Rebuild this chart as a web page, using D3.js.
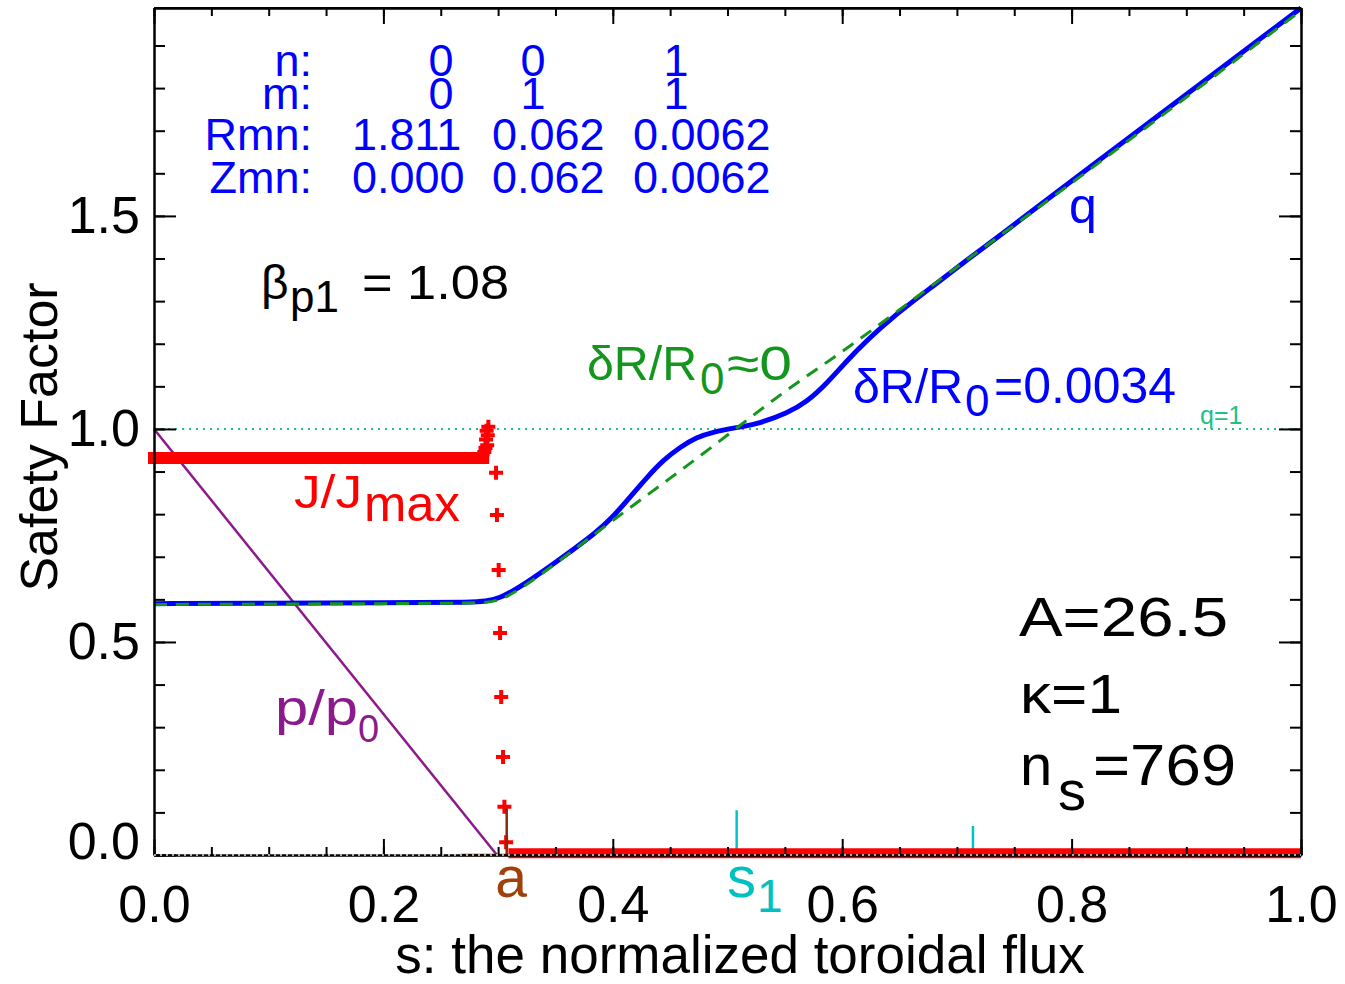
<!DOCTYPE html>
<html>
<head>
<meta charset="utf-8">
<script src="https://cdn.jsdelivr.net/npm/d3@7"></script>
<style>
body { margin: 0; background: #fff; }
svg { display: block; font-family: "Liberation Sans", Arial, Helvetica, sans-serif; }
</style>
</head>
<body>
<svg id="chart" width="1345" height="984"></svg>
<script>
// safety factor with the island (blue) and without it (green)
var qS    = [0, 0.1, 0.2, 0.28, 0.30, 0.33, 0.357, 0.386, 0.40, 0.415, 0.43, 0.444, 0.459, 0.473, 0.487, 0.51, 0.528, 0.552, 0.569, 0.587, 0.604, 0.622, 0.644, 0.679, 0.709, 0.738, 0.80, 0.90, 1.0];
var qBlue = [0.590, 0.591, 0.592, 0.593, 0.597, 0.648, 0.700, 0.758, 0.793, 0.840, 0.887, 0.927, 0.958, 0.980, 0.993, 1.004, 1.013, 1.037, 1.063, 1.108, 1.160, 1.209, 1.263, 1.335, 1.397, 1.455, 1.582, 1.785, 1.988];
var gS     = [0, 0.1, 0.2, 0.28, 0.30, 0.32, 0.35, 0.40, 0.45, 0.50, 0.55, 0.60, 0.65, 0.70, 0.75, 0.80, 0.90, 1.0];
var qGreen = [0.588, 0.589, 0.590, 0.591, 0.594, 0.625, 0.683, 0.786, 0.884, 0.985, 1.090, 1.180, 1.280, 1.380, 1.478, 1.577, 1.778, 1.982];

// J/Jmax : dense flat parts + the sparse points at the edge
var jCoreS = [0, 0.287];
var jCoreV = [0.932, 0.932];
var jOutS  = [0.309, 1.0];
var jOutV  = [0.004, 0.004];
var jPlusS = [0.2865, 0.2880, 0.2890, 0.2905, 0.2895, 0.2910, 0.2900, 0.2915, 0.2982, 0.2990, 0.3005, 0.3017, 0.3027, 0.3043, 0.3055, 0.3070];
var jPlusV = [0.940, 0.946, 0.955, 0.962, 0.975, 0.985, 0.996, 1.005, 0.897, 0.798, 0.669, 0.521, 0.371, 0.230, 0.113, 0.030];

// pressure p/p0
var pS = [0, 0.299];
var pV = [1.0, 0.0];

// boundary 'a' and rational surfaces
var aPos = 0.3075, aHeight = 0.11, aHalf = 0.04;
var surfS = [0.508, 0.714];
var surfH = [0.105, 0.068];
var surfHalf = [0.043, 0.03];

// axis ticks
var xTicks = [0, 0.2, 0.4, 0.6, 0.8, 1.0];
var xTickLabels = ["0.0", "0.2", "0.4", "0.6", "0.8", "1.0"];
var yTicks = [0, 0.5, 1.0, 1.5];
var yTickLabels = ["0.0", "0.5", "1.0", "1.5"];
var yMax = 1.988;

// boundary table
var tabRows = ["n:", "m:", "Rmn:", "Zmn:"];
var tabN = ["0", "0", "1"];
var tabM = ["0", "1", "1"];
var tabR = ["1.811", "0.062", "0.0062"];
var tabZ = ["0.000", "0.062", "0.0062"];

var svg = d3.select("#chart");
var x = d3.scaleLinear().domain([0, 1]).range([154, 1301]);
var y = d3.scaleLinear().domain([0, yMax]).range([855, 8]);

function zip(a, b) { return a.map(function(d, i) { return [d, b[i]]; }); }
var line = d3.line().x(function(d) { return x(d[0]); }).y(function(d) { return y(d[1]); });
var smooth = d3.line().x(function(d) { return x(d[0]); }).y(function(d) { return y(d[1]); }).curve(d3.curveBasis);

// q = 1 dotted line
svg.append("path").attr("d", line([[0, 1], [1, 1]]))
    .attr("stroke", "#1fc08a").attr("stroke-width", 2).attr("stroke-dasharray", "2,5").attr("fill", "none");

// pressure
svg.append("path").attr("d", line(zip(pS, pV)))
    .attr("stroke", "#8c1a8c").attr("stroke-width", 2.5).attr("fill", "none");

// q curves
svg.append("path").attr("d", smooth(zip(qS, qBlue)))
    .attr("stroke", "#0000ff").attr("stroke-width", 5).attr("fill", "none").attr("stroke-linejoin", "round");
svg.append("path").attr("d", smooth(zip(gS, qGreen)))
    .attr("stroke", "#14961e").attr("stroke-width", 3).attr("stroke-dasharray", "13,9").attr("fill", "none");

// rational surfaces (cyan)
surfS.forEach(function(s, i) {
    svg.append("path").attr("d", line([[s, 0], [s, surfH[i]]]))
        .attr("stroke", "#00c4c4").attr("stroke-width", 2.5);
    svg.append("path").attr("d", line([[s - surfHalf[i], 0], [s + surfHalf[i], 0]]))
        .attr("stroke", "#00c4c4").attr("stroke-width", 2.5);
});

// J/Jmax
svg.append("path").attr("d", line(zip(jCoreS, jCoreV)))
    .attr("stroke", "#ff0000").attr("stroke-width", 12).attr("stroke-linecap", "square").attr("fill", "none");
svg.append("path").attr("d", line(zip(jOutS, jOutV)))
    .attr("stroke", "#ff0000").attr("stroke-width", 10).attr("fill", "none");
svg.selectAll(".jp").data(zip(jPlusS, jPlusV)).enter().append("path")
    .attr("class", "jp")
    .attr("transform", function(d) { return "translate(" + x(d[0]) + "," + y(d[1]) + ")"; })
    .attr("d", "M-7,0H7M0,-7V7")
    .attr("stroke", "#ff0000").attr("stroke-width", 4);

// boundary (brown)
svg.append("path").attr("d", line([[aPos, 0], [aPos, aHeight]]))
    .attr("stroke", "#8a2a0a").attr("stroke-width", 2.5);
svg.append("path").attr("d", line([[aPos - aHalf, 0], [aPos + aHalf, 0]]))
    .attr("stroke", "#8a2a0a").attr("stroke-width", 2.5);

// axes
function styleAxis(g) {
    g.selectAll(".domain").attr("stroke", "#000").attr("stroke-width", 2);
    g.selectAll(".tick line").attr("stroke", "#000").attr("stroke-width", 2);
    g.selectAll("text").attr("font-size", 52).attr("fill", "#000").attr("font-family", null);
}
var gx = svg.append("g").attr("transform", "translate(0,855)")
    .call(d3.axisBottom(x).tickValues(xTicks).tickFormat(function(d, i) { return xTickLabels[i]; })
        .tickSize(-16).tickSizeOuter(0).tickPadding(30));
styleAxis(gx);
svg.append("g").attr("transform", "translate(0,855)")
    .call(d3.axisBottom(x).ticks(20).tickFormat("").tickSize(-8).tickSizeOuter(0)).call(styleAxis);
svg.append("g").attr("transform", "translate(0,8)")
    .call(d3.axisTop(x).tickValues(xTicks).tickFormat("").tickSize(-16).tickSizeOuter(0)).call(styleAxis);
svg.append("g").attr("transform", "translate(0,8)")
    .call(d3.axisTop(x).ticks(20).tickFormat("").tickSize(-8).tickSizeOuter(0)).call(styleAxis);
var gy = svg.append("g").attr("transform", "translate(154,0)")
    .call(d3.axisLeft(y).tickValues(yTicks).tickFormat(function(d, i) { return yTickLabels[i]; })
        .tickSize(-22).tickSizeOuter(0).tickPadding(14));
styleAxis(gy);
// lowest label sits a bit above the corner, as in the original
gy.selectAll(".tick text").filter(function(d) { return d === 0; }).attr("y", -13);
svg.append("g").attr("transform", "translate(154,0)")
    .call(d3.axisLeft(y).ticks(19).tickFormat("").tickSize(-11).tickSizeOuter(0)).call(styleAxis);
svg.append("g").attr("transform", "translate(1301,0)")
    .call(d3.axisRight(y).tickValues(yTicks).tickFormat("").tickSize(-22).tickSizeOuter(0)).call(styleAxis);
svg.append("g").attr("transform", "translate(1301,0)")
    .call(d3.axisRight(y).ticks(19).tickFormat("").tickSize(-11).tickSizeOuter(0)).call(styleAxis);
svg.append("line").attr("x1", 154).attr("x2", 1301).attr("y1", 8).attr("y2", 8)
    .attr("stroke", "#000").attr("stroke-width", 2);

// zero line dotted over everything
svg.append("path").attr("d", line([[0, 0], [1, 0]]))
    .attr("stroke", "#e0e0e0").attr("stroke-width", 1.5).attr("stroke-dasharray", "2,4").attr("fill", "none");

// axis titles
svg.append("text").attr("x", 740).attr("y", 973).attr("text-anchor", "middle")
    .attr("font-size", 53).text("s: the normalized toroidal flux");
svg.append("text").attr("transform", "translate(57,437) rotate(-90)").attr("text-anchor", "middle")
    .attr("font-size", 52).text("Safety Factor");

// annotation pieces, each placed on its own (w = stretched width)
function label(color, parts) {
    parts.forEach(function(p) {
        var t = svg.append("text").attr("x", p.x).attr("y", p.y).attr("fill", color)
            .attr("font-size", p.size).attr("text-anchor", p.anchor || "start").text(p.t);
        if (p.w) t.attr("textLength", p.w).attr("lengthAdjust", "spacingAndGlyphs");
    });
}

// boundary table
var tabBase = [76, 109, 150, 193];
var tabX = [[441, 533, 676], [441, 533, 676], [352, 492, 633], [352, 492, 633]];
var tabVals = [tabN, tabM, tabR, tabZ];
tabRows.forEach(function(r, i) {
    svg.append("text").attr("x", 312).attr("y", tabBase[i]).attr("text-anchor", "end")
        .attr("fill", "#0000ff").attr("font-size", 45).text(r);
    tabVals[i].forEach(function(v, j) {
        svg.append("text").attr("x", tabX[i][j]).attr("y", tabBase[i])
            .attr("text-anchor", i < 2 ? "middle" : "start")
            .attr("fill", "#0000ff").attr("font-size", 45).text(v);
    });
});

label("#000", [
    {t: "\u03b2", x: 261, y: 299, size: 48},
    {t: "p1", x: 290, y: 312, size: 44},
    {t: "= 1.08", x: 362, y: 299, size: 48, w: 147}
]);
label("#ff0000", [
    {t: "J/J", x: 294, y: 508, size: 46, w: 68},
    {t: "max", x: 364, y: 521, size: 50, w: 96}
]);
label("#8c1a8c", [
    {t: "p/p", x: 275, y: 725, size: 50, w: 83},
    {t: "0", x: 358, y: 742, size: 38}
]);
label("#14961e", [
    {t: "\u03b4R/R", x: 587, y: 380, size: 48, w: 110},
    {t: "0", x: 700, y: 394, size: 44},
    {t: "\u22480", x: 727, y: 380, size: 48, w: 65}
]);
label("#0000ff", [
    {t: "\u03b4R/R", x: 853, y: 403, size: 48, w: 110},
    {t: "0", x: 965, y: 416, size: 44},
    {t: "=0.0034", x: 994, y: 403, size: 50, w: 182},
    {t: "q", x: 1069, y: 223, size: 50}
]);
label("#1fc08a", [{t: "q=1", x: 1200, y: 424, size: 25}]);
label("#000", [
    {t: "A=26.5", x: 1019, y: 636, size: 56, w: 209},
    {t: "\u03ba=1", x: 1020, y: 713, size: 56, w: 102},
    {t: "n", x: 1020, y: 785, size: 58},
    {t: "s", x: 1058, y: 810, size: 56},
    {t: "=769", x: 1093, y: 785, size: 58, w: 143}
]);
label("#a0400a", [{t: "a", x: 511, y: 897, size: 57, anchor: "middle"}]);
label("#00c0c0", [
    {t: "s", x: 727, y: 897, size: 58},
    {t: "1", x: 757, y: 912, size: 46}
]);
</script>
</body>
</html>
